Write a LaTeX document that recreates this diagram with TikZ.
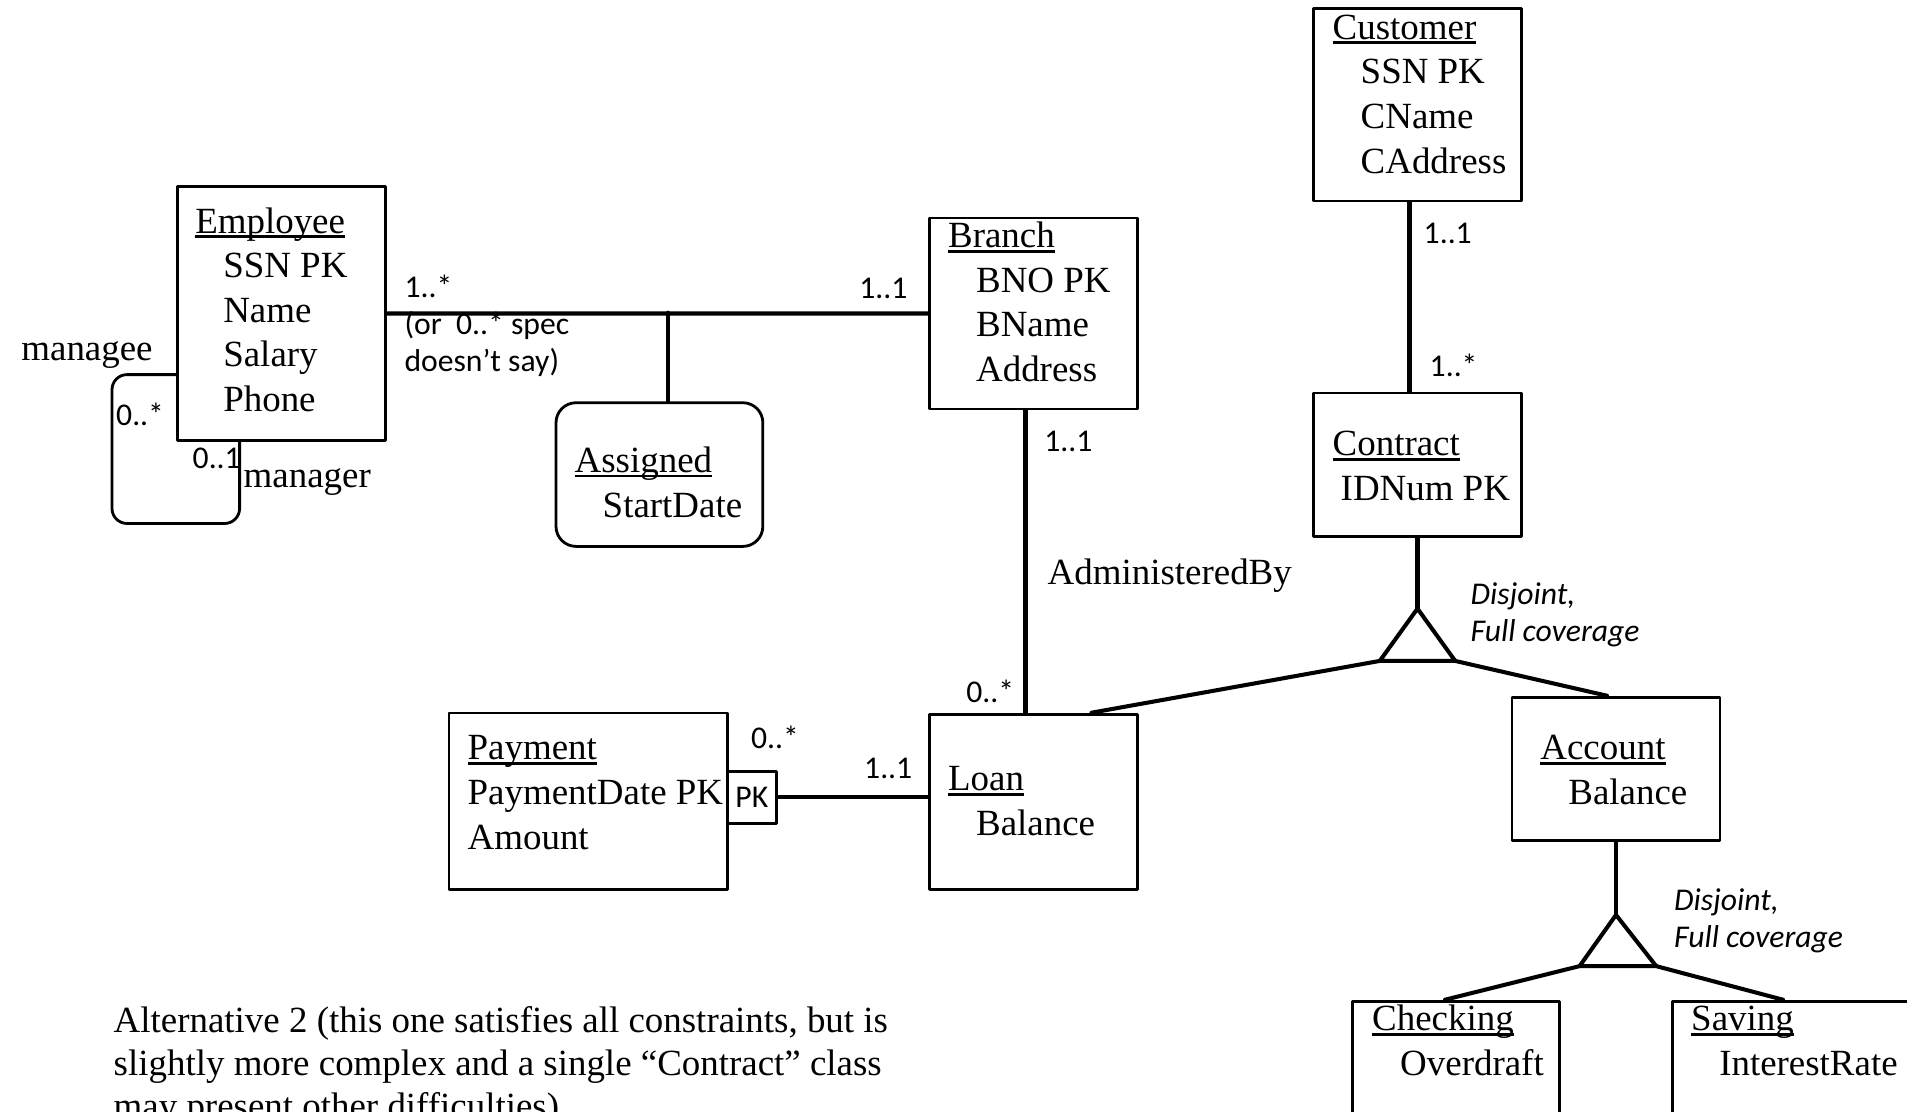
\documentclass[tikz,border=0pt]{standalone}
\usepackage{fontspec}
\setmainfont{Liberation Serif}
\newfontfamily\lblfont{Carlito}
\usetikzlibrary{calc}

% class name, underlined close to the baseline
\newcommand{\cname}[1]{\setbox0\hbox{#1}\rlap{\vrule height -0.6pt depth 1.4pt width \wd0}\box0}
\newcommand{\ind}{\hspace*{0.28cm}}

\tikzset{
	cls/.style={draw, line width=0.8pt, fill=white, anchor=north west, inner sep=0pt},
	% texts are placed at the baseline of their last line
	attr/.style={anchor=base west, align=left, inner sep=0pt, yshift=-1pt, font=\fontsize{10.5}{12.67}\selectfont},
	mult/.style={anchor=base west, align=left, inner sep=0pt, yshift=-0.6pt, font=\lblfont\fontsize{9}{10.4}\selectfont},
	gen/.style={mult, font=\lblfont\itshape\fontsize{9}{10.4}\selectfont},
	rel/.style={line width=1.15pt},
}

\begin{document}
\begin{tikzpicture}[x=0.01cm, y=-0.01cm, line cap=round, line join=round]
	
	\useasboundingbox (0,0) rectangle (1907,1111);
	
	% classes
	\node[cls, minimum width=2.08cm, minimum height=1.925cm] (cust) at (1312,7) {};
	\node[cls, minimum width=2.08cm, minimum height=2.54cm] (emp) at (176,185) {};
	\node[cls, minimum width=2.08cm, minimum height=1.91cm] (branch) at (928,216.5) {};
	\node[cls, minimum width=2.08cm, minimum height=1.434cm] (contract) at (1312,391.6) {};
	\node[cls, rounded corners=0.2cm, minimum width=2.067cm, minimum height=1.436cm] (asg) at (554.6,401.3) {};
	\node[cls, minimum width=2.08cm, minimum height=1.75cm] (loan) at (928,712.7) {};
	\node[cls, minimum width=2.784cm, minimum height=1.763cm] (pay) at (447.6,711.5) {};
	\node[cls, minimum width=0.487cm, minimum height=0.52cm, font=\lblfont\fontsize{9}{10.4}\selectfont] (pk) at (726,770) {PK};
	\node[cls, minimum width=2.08cm, minimum height=1.435cm] (acct) at (1510.5,695.7) {};
	\node[cls, minimum width=2.07cm, minimum height=1.5cm] (chk) at (1351,999.7) {};
	\node[cls, minimum width=2.6cm, minimum height=1.5cm] (sav) at (1671,999.7) {};
	
	% class texts
	\node[attr] (custT) at (1332,169.5) {\cname{Customer}\\\ind SSN PK\\\ind CName\\\ind CAddress};
	\node[attr] (empT) at (194.6,408) {\cname{Employee}\\\ind SSN PK\\\ind Name\\\ind Salary\\\ind Phone};
	\node[attr] (branchT) at (947.4,378) {\cname{Branch}\\\ind BNO PK\\\ind BName\\\ind Address};
	\node[attr] (contractT) at (1332,497) {\cname{Contract}\\\hspace*{0.08cm}IDNum PK};
	\node[attr] (asgT) at (574,513.5) {\cname{Assigned}\\\ind StartDate};
	\node[attr] (loanT) at (947.4,832) {\cname{Loan}\\\ind Balance};
	\node[attr] (payT) at (467,845.5) {\cname{Payment}\\PaymentDate PK\\Amount};
	\node[attr] (acctT) at (1539.7,800.6) {\cname{Account}\\\ind Balance};
	\node[attr] (chkT) at (1371.5,1071.7) {\cname{Checking}\\\ind Overdraft};
	\node[attr] (savT) at (1690.5,1071.7) {\cname{Saving}\\\ind InterestRate};
	
	% associations
	\draw[rel] (emp) -- (branch);
	\coordinate (asgJ) at (667.7,312.6);
	\draw[rel] (asgJ) -- (asgJ |- asg.north);
	\draw[rel] ($(branch.south)+(-8,0)$) -- ($(loan.north)+(-8,0)$);
	\draw[rel] (pk.east) -- (pk.east -| loan.west);
	\draw[rel] ($(cust.south)+(-8,0)$) -- ($(contract.north)+(-8,0)$);
	
	% self association manager / managee
	\draw[line width=0.8pt, rounded corners=0.15cm] ($(emp.north west)+(0,189.6)$)
	-| ($(emp.south west)+(-64,81.5)$) -| ($(emp.south west)+(63.6,0)$);
	
	% generalisation of Contract
	\coordinate (isaA) at ($(contract.south)+(0,70.7)$);
	\draw[rel] (contract.south) -- (isaA);
	\draw[rel] (isaA) -- ++(-37.7,52.3) coordinate (isaAl) -- ++(75.4,0) coordinate (isaAr) -- cycle;
	\draw[rel] (isaAl) -- ($(loan.north east)+(-47.5,0)$);
	\draw[rel] (isaAr) -- ($(acct.north)+(-9,0)$);
	
	% generalisation of Account
	\coordinate (isaB) at ($(acct.south)+(0,72.8)$);
	\draw[rel] (acct.south) -- (isaB);
	\draw[rel] (isaB) -- ++(-36.4,51.2) coordinate (isaBl) -- ++(76.6,0) coordinate (isaBr) -- cycle;
	\draw[rel] (isaBl) -- ($(chk.north)+(-11,0)$);
	\draw[rel] (isaBr) -- ($(sav.north west)+(112,0)$);
	
	% multiplicities and roles
	\node[mult] (mEmpA) at (403.8,295) {1..*};
	\node[mult] (mEmpNote) at (403.8,369) {(or\ \ 0..* spec\\doesn’t say)};
	\node[mult] (mBrA) at (858.6,296) {1..1};
	\node[mult] (mSelfA) at (115.5,423) {0..*};
	\node[mult] (mSelfB) at (192,466) {0..1};
	\node[attr] (rManagee) at (20.7,357) {managee};
	\node[attr] (rManager) at (243,484) {manager};
	\node[mult] (mBrB) at (1043.6,449) {1..1};
	\node[attr] (rAdmin) at (1047,581) {AdministeredBy};
	\node[mult] (mLoanA) at (965.7,700) {0..*};
	\node[mult] (mPayA) at (750.4,746) {0..*};
	\node[mult] (mLoanB) at (863.5,776) {1..1};
	\node[mult] (mCustA) at (1423,241) {1..1};
	\node[mult] (mConA) at (1429,374) {1..*};
	\node[gen] (genA) at (1470,639) {Disjoint,\\Full coverage};
	\node[gen] (genB) at (1673.5,945) {Disjoint,\\Full coverage};
	
	% remark
	\node[attr, font=\fontsize{10.5}{12.2}\selectfont] (note) at (113,1114.5) {Alternative 2 (this one satisfies all constraints, but is\\slightly more complex and a single “Contract” class\\may present other difficulties)};
	
\end{tikzpicture}
\end{document}
